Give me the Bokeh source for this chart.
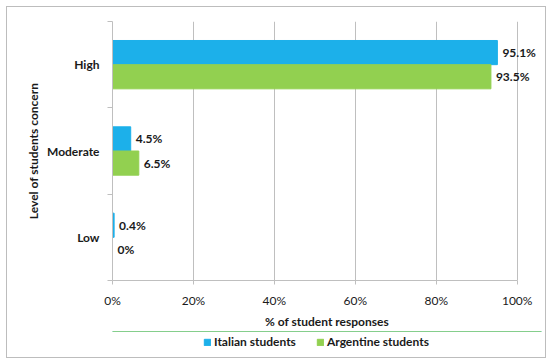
from bokeh.plotting import figure
from bokeh.layouts import column
from bokeh.models import ColumnDataSource, FixedTicker, Legend, LegendItem, Range1d
from bokeh.core.properties import value
from bokeh.embed import file_html
from bokeh.resources import INLINE

categories = ["High", "Moderate", "Low"]
italian = [95.1, 4.5, 0.4]
argentine = [93.5, 6.5, 0.0]
italian_labels = ["95.1%", "4.5%", "0.4%"]
argentine_labels = ["93.5%", "6.5%", "0%"]
series_names = ["Italian students", "Argentine students"]
x_ticks = [0, 20, 40, 60, 80, 100]

BLUE = "#1cb0ea"
GREEN = "#92d050"
FONT = "Lato"
TXT = "#1a1a1a"

n = len(categories)
centers = [n - i - 0.5 for i in range(n)]
bar_h = 0.28
y_it = [c + bar_h / 2 for c in centers]
y_ar = [c - bar_h / 2 for c in centers]

src_it = ColumnDataSource(dict(y=y_it, x=italian, lab=italian_labels))
src_ar = ColumnDataSource(dict(y=y_ar, x=argentine, lab=argentine_labels))

p = figure(width=538, height=324, output_backend="svg", toolbar_location=None,
           x_range=Range1d(0, 106), y_range=Range1d(0, n),
           min_border_left=105, min_border_right=4, min_border_top=14, min_border_bottom=50)

p.hbar(y="y", right="x", left=0, height=bar_h, source=src_it, color=BLUE)
p.hbar(y="y", right="x", left=0, height=bar_h, source=src_ar, color=GREEN)

for src in (src_it, src_ar):
    p.text(x="x", y="y", text="lab", source=src, x_offset=5, text_align="left",
           text_baseline="middle", text_font=value(FONT), text_font_size="12px",
           text_font_style="bold", text_color=TXT)

p.outline_line_color = None
p.xgrid.ticker = FixedTicker(ticks=x_ticks)
p.xgrid.grid_line_color = "#bfbfbf"
p.xgrid.bounds = (0, 100)
p.ygrid.grid_line_color = None

xa = p.xaxis[0]
xa.ticker = FixedTicker(ticks=x_ticks)
xa.bounds = (0, 100)
xa.major_label_overrides = {t: f"{t}%" for t in x_ticks}
xa.axis_line_color = "#bfbfbf"
xa.major_tick_line_color = "#bfbfbf"
xa.major_tick_out = 4
xa.major_tick_in = 0
xa.minor_tick_line_color = None
xa.major_label_text_font = FONT
xa.major_label_text_font_size = "12px"
xa.major_label_text_color = TXT
xa.axis_label = "% of student responses"
xa.axis_label_text_font = FONT
xa.axis_label_text_font_size = "12px"
xa.axis_label_text_font_style = "bold"
xa.axis_label_text_color = TXT
xa.axis_label_standoff = 3
xa.major_label_standoff = 8

ya = p.yaxis[0]
ya.ticker = FixedTicker(ticks=centers, minor_ticks=list(range(n + 1)))
ya.major_label_overrides = {c: categories[i] for i, c in enumerate(centers)}
ya.major_tick_line_color = None
ya.minor_tick_line_color = "#bfbfbf"
ya.minor_tick_out = 5
ya.minor_tick_in = 0
ya.axis_line_color = "#bfbfbf"
ya.major_label_text_font = FONT
ya.major_label_text_font_size = "12px"
ya.major_label_text_font_style = "bold"
ya.major_label_text_color = TXT
ya.major_label_standoff = 7
ya.axis_label = "Level of students concern"
ya.axis_label_text_font = FONT
ya.axis_label_text_font_size = "12px"
ya.axis_label_text_font_style = "bold"
ya.axis_label_text_color = TXT
ya.axis_label_standoff = 3

# legend row (frame is aligned with the main plot's frame by the column layout)
p2 = figure(width=538, height=26, output_backend="svg", toolbar_location=None,
            x_range=Range1d(0, 1), y_range=Range1d(0, 1),
            x_axis_location=None, y_axis_location=None,
            min_border_left=0, min_border_right=0, min_border_top=0, min_border_bottom=0)
p2.outline_line_color = None
p2.grid.visible = False
hidden = dict(y=[10], r=[1])
l_it = p2.hbar(y="y", right="r", left=0, height=0.5, source=ColumnDataSource(hidden), color=BLUE)
l_ar = p2.hbar(y="y", right="r", left=0, height=0.5, source=ColumnDataSource(hidden), color=GREEN)
legend = Legend(items=[LegendItem(label=series_names[0], renderers=[l_it]),
                       LegendItem(label=series_names[1], renderers=[l_ar])],
                orientation="horizontal", location=(91, 8),
                label_text_font=FONT, label_text_font_size="12px", label_text_font_style="bold",
                label_text_color=TXT, glyph_width=8, glyph_height=8,
                spacing=20, padding=2, margin=0, border_line_color=None,
                background_fill_alpha=0, label_standoff=3)
p2.add_layout(legend, "center")

layout = column(p, p2, styles={"border": "1px solid #bdbdbd", "margin-left": "6px", "margin-top": "6px"})

open("out.html", "w").write(file_html(layout, INLINE))
